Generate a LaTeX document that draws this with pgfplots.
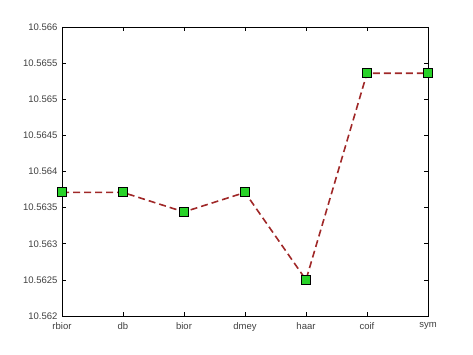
\documentclass[border=0pt]{standalone}
\usepackage{fontspec}
\setmainfont{Liberation Sans}
\usepackage{pgfplots}
\pgfplotsset{compat=1.18}
\definecolor{lred}{RGB}{160,40,40}
\definecolor{mgreen}{RGB}{40,210,40}
\begin{document}
\begin{tikzpicture}
\useasboundingbox (-62pt,-39pt) rectangle (411pt,316pt);
\begin{axis}[
  at={(0,0)}, anchor=south west,
  scale only axis, width=366pt, height=289pt,
  xmin=0, xmax=6, ymin=10.562, ymax=10.566,
  xtick={0,1,2,3,4,5,6},
  xticklabels={rbior,db,bior,dmey,haar,coif,sym},
  ytick={10.562,10.5625,10.563,10.5635,10.564,10.5645,10.565,10.5655,10.566},
  yticklabels={10.562,10.5625,10.563,10.5635,10.564,10.5645,10.565,10.5655,10.566},
  tick pos=both, tick align=inside,
  major tick length=4pt,
  axis line style={black, line width=0.8pt},
  tick style={black, line width=0.6pt},
  ticklabel style={font=\fontsize{9.5}{11}\selectfont, text=black!75},
  xticklabel style={yshift=-3pt},
  yticklabel style={xshift=-1pt},
  clip=false,
]
\addplot[color=lred, line width=1.6pt, dash pattern=on 7pt off 4pt,
  mark=square*, mark size=4.5pt,
  mark options={solid, fill=mgreen, draw=black, line width=0.9pt}]
  coordinates {
  (0,10.56371) (1,10.56371) (2,10.56344) (3,10.56371)
  (4,10.56250) (5,10.56536) (6,10.56536)
  };
\end{axis}
\end{tikzpicture}
\end{document}
